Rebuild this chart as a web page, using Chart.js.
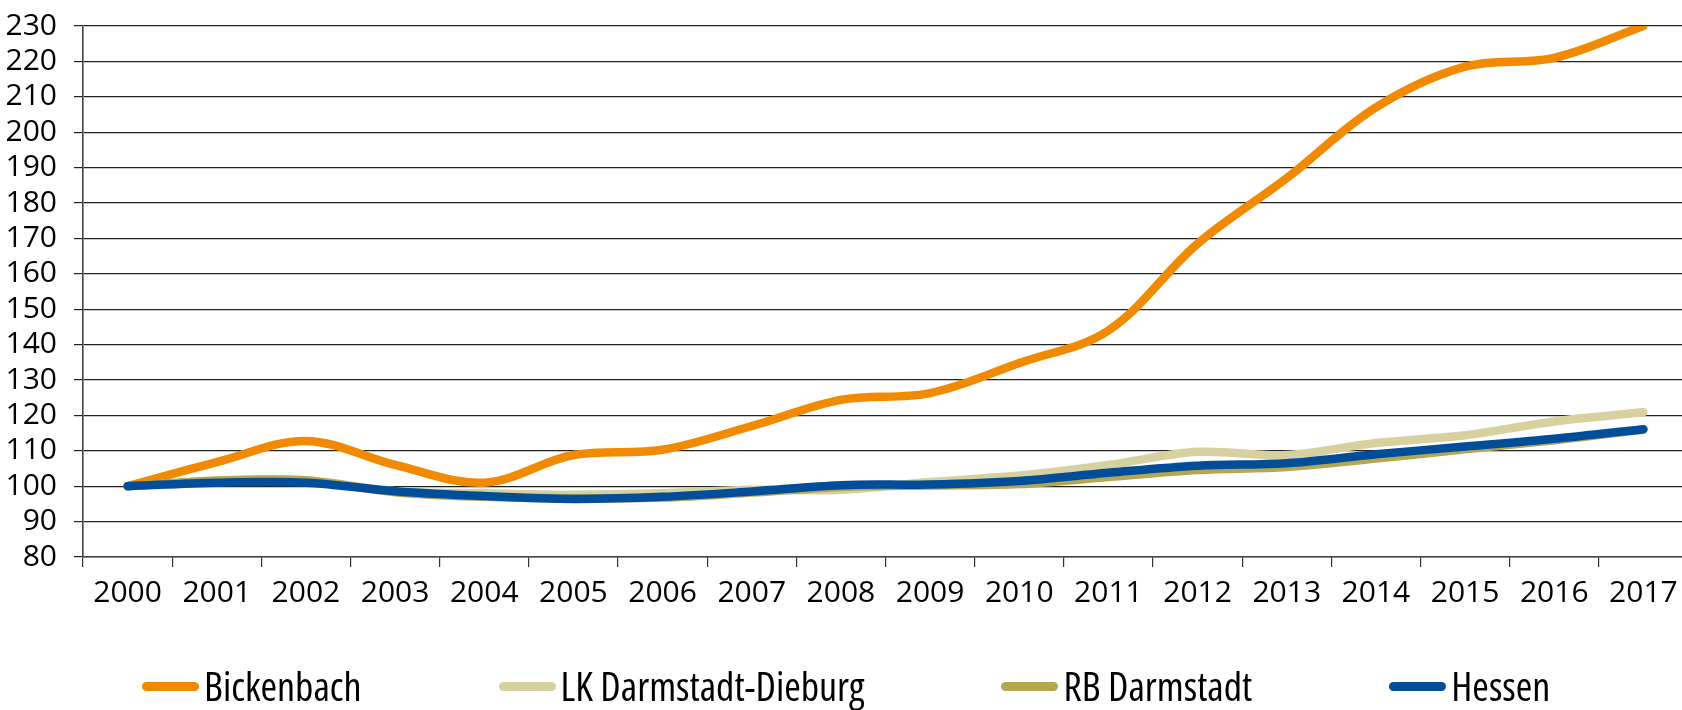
<!DOCTYPE html>
<html lang="de">
<head>
    <meta charset="UTF-8">
    <title>Index 2000 = 100</title>
    <script src="https://cdn.jsdelivr.net/npm/chart.js"></script>
    <style>
        html, body {
            margin: 0;
            padding: 0;
            background: #ffffff;
            overflow: hidden;
        }
        .wrap {
            position: relative;
            width: 1682px;
            height: 710px;
            overflow: hidden;
        }
        .legend {
            position: absolute;
            left: 142px;
            top: 663px;
            display: flex;
            gap: 137px;
            font-family: 'Open Sans', sans-serif;
            font-stretch: 75%;
            font-size: 40px;
            line-height: 46px;
            color: #000;
            white-space: nowrap;
        }
        .legend .item {
            display: flex;
            align-items: center;
            flex-shrink: 0;
        }
        .legend .mark {
            width: 57px;
            height: 9px;
            border-radius: 5px;
            margin-right: 5px;
        }
    </style>
</head>
<body>
<div class="wrap">
    <canvas id="chart" width="1688" height="710"></canvas>
    <div class="legend" id="legend"></div>
</div>

<script>
    const years = ['2000', '2001', '2002', '2003', '2004', '2005', '2006', '2007', '2008',
                   '2009', '2010', '2011', '2012', '2013', '2014', '2015', '2016', '2017'];
    const bickenbach = [100, 106.8, 112.8, 106, 101, 108.8, 110.3, 117, 124.4, 126.3, 134.8, 144, 168.5, 187, 207, 218.5, 221, 230];
    const lkDarmstadt = [100, 101.5, 101.7, 98.6, 98, 97.6, 98, 99, 99, 101.2, 103, 106, 109.7, 108.8, 112.2, 114.4, 118.3, 120.9];
    const rbDarmstadt = [100, 101.6, 101.6, 98.3, 97, 96.6, 96.8, 98.2, 99.8, 100.2, 100.6, 102.6, 104.6, 105.4, 107.8, 110.4, 113, 116];
    const hessen = [100, 101, 101, 98.6, 97.2, 96.4, 97, 98.5, 100.3, 100.5, 101.5, 103.8, 105.8, 106.5, 109, 111.2, 113.4, 116.1];

    const seriesNames = ['Bickenbach', 'LK Darmstadt-Dieburg', 'RB Darmstadt', 'Hessen'];
    const seriesColors = ['#f18a00', '#d7d1a0', '#b6a64f', '#004e9a'];
    const seriesData = [bickenbach, lkDarmstadt, rbDarmstadt, hessen];

    // narrow face: Open Sans on its width axis
    const tickFont = { family: "'Open Sans'", style: 'normal condensed', size: 30 };

    const datasets = seriesNames.map((name, i) => ({
        label: name,
        data: seriesData[i],
        borderColor: seriesColors[i],
        backgroundColor: seriesColors[i],
        borderWidth: 8.5,
        tension: 0.35,
        pointRadius: 0,
        borderCapStyle: 'round',
        fill: false,
        order: seriesNames.length - i   // Hessen drawn on top
    }));

    new Chart(document.getElementById('chart'), {
        type: 'line',
        data: { labels: years, datasets: datasets },
        options: {
            responsive: false,
            animation: false,
            layout: { padding: { top: 0, right: 0, left: 0, bottom: 0 } },
            plugins: {
                legend: { display: false },
                tooltip: { enabled: false }
            },
            scales: {
                x: {
                    offset: true,
                    grid: {
                        offset: true,
                        drawOnChartArea: false,
                        drawTicks: true,
                        tickLength: 10,
                        color: '#333',
                        lineWidth: 1.2
                    },
                    border: { display: true, color: '#444', width: 1.6 },
                    ticks: {
                        color: '#000',
                        padding: 8,
                        maxRotation: 0,
                        autoSkip: false,
                        font: tickFont
                    },
                    afterFit: (s) => { s.height = 153; }
                },
                y: {
                    min: 80,
                    max: 230,
                    ticks: {
                        stepSize: 10,
                        autoSkip: false,
                        color: '#000',
                        padding: 17,
                        // small line height keeps the top label from pushing the plot down
                        font: Object.assign({}, tickFont, { lineHeight: 0.6 })
                    },
                    grid: {
                        color: '#222',
                        lineWidth: 1.2,
                        tickLength: 9
                    },
                    border: { display: true, color: '#444', width: 1.6 },
                    afterFit: (s) => { s.width = 83; }
                }
            }
        }
    });

    // legend below the chart
    const legend = document.getElementById('legend');
    seriesNames.forEach((name, i) => {
        const item = document.createElement('div');
        item.className = 'item';
        const mark = document.createElement('span');
        mark.className = 'mark';
        mark.style.background = seriesColors[i];
        const txt = document.createElement('span');
        txt.textContent = name;
        item.appendChild(mark);
        item.appendChild(txt);
        legend.appendChild(item);
    });
</script>
</body>
</html>
